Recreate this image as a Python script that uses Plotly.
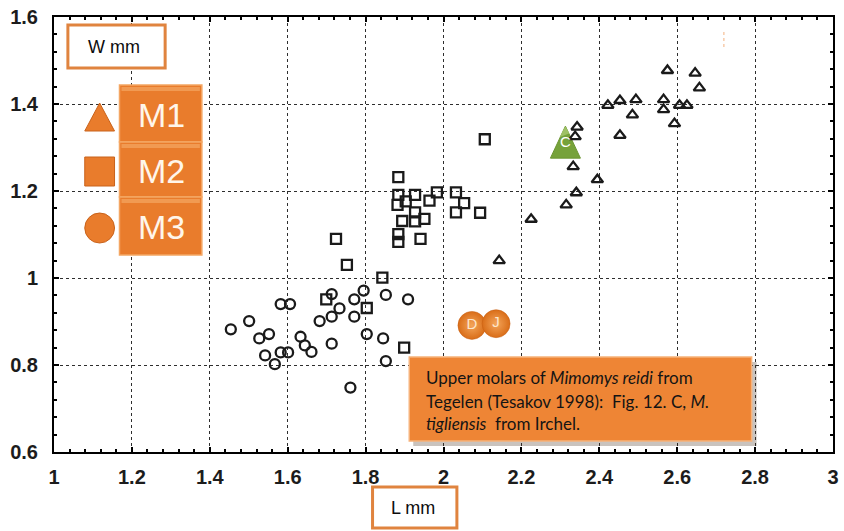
import plotly.graph_objects as go

# ---- data: tooth length (L) vs width (W), mm ----
# M1 (triangles)
m1_L = [2.575, 2.646, 2.657, 2.422, 2.453, 2.494, 2.485, 2.565, 2.565, 2.606, 2.625,
        2.593, 2.453, 2.343, 2.338, 2.333, 2.395, 2.341, 2.315, 2.225, 2.143]
m1_W = [1.477, 1.471, 1.437, 1.397, 1.408, 1.410, 1.375, 1.410, 1.387, 1.397, 1.397,
        1.355, 1.328, 1.347, 1.325, 1.256, 1.226, 1.196, 1.168, 1.135, 1.040]

# M2 (squares)
m2_L = [1.884, 1.884, 1.927, 1.903, 1.882, 1.964, 1.983, 2.032, 2.053, 2.032, 2.094,
        2.106, 1.927, 1.951, 1.894, 1.927, 1.884, 1.884, 1.941, 1.724, 1.752, 1.843,
        1.699, 1.803, 1.899]
m2_W = [1.232, 1.191, 1.191, 1.176, 1.168, 1.178, 1.197, 1.197, 1.172, 1.151, 1.150,
        1.319, 1.151, 1.136, 1.131, 1.130, 1.101, 1.083, 1.090, 1.090, 1.030, 1.001,
        0.951, 0.931, 0.840]

# M3 (circles)
m3_L = [1.454, 1.501, 1.527, 1.552, 1.542, 1.567, 1.582, 1.601, 1.582, 1.606, 1.633,
        1.644, 1.661, 1.682, 1.713, 1.713, 1.733, 1.713, 1.771, 1.795, 1.771, 1.803,
        1.852, 1.909, 1.845, 1.852, 1.761]
m3_W = [0.882, 0.901, 0.861, 0.871, 0.822, 0.802, 0.829, 0.829, 0.940, 0.940, 0.865,
        0.845, 0.830, 0.901, 0.911, 0.963, 0.930, 0.849, 0.951, 0.971, 0.911, 0.871,
        0.961, 0.951, 0.861, 0.809, 0.748]

# highlighted specimens
c_L, c_W, c_lab = [2.313], [1.31], ["C"]
dj_L, dj_W, dj_lab = [2.073, 2.135], [0.891, 0.895], ["D", "J"]

x_ticks = [1, 1.2, 1.4, 1.6, 1.8, 2, 2.2, 2.4, 2.6, 2.8, 3]
y_ticks = [0.6, 0.8, 1, 1.2, 1.4, 1.6]

W, H = 844, 531
ML, MR, MT, MB = 54, 5, 17, 79
PW, PH = W - ML - MR, H - MT - MB


def px(x):
    """pixel column -> paper x"""
    return (x - ML) / PW


def py(y):
    """pixel row -> paper y"""
    return (H - MB - y) / PH


ORANGE = "#E97C2C"
ORANGE_LT = "#F4A663"
ORANGE_DK = "#C9621A"
INK = "#1a1a1a"

fig = go.Figure()

shapes = []
annotations = []

# M. tigliensis specimen C: a tall triangle anchored on its data point
for L, Wd in zip(c_L, c_W):
    shapes.append(dict(type="path", layer="between", xref="x", yref="y",
                       xsizemode="pixel", ysizemode="pixel", xanchor=L, yanchor=Wd,
                       path="M -15,-15 L 15,-15 L 0,17 Z",
                       fillcolor="#76a23a", line=dict(color="#6a9530", width=1)))
    shapes.append(dict(type="path", layer="between", xref="x", yref="y",
                       xsizemode="pixel", ysizemode="pixel", xanchor=L, yanchor=Wd,
                       path="M -6,6 L 0,17 L 4,10 Z",
                       fillcolor="#a9c971", line=dict(width=0), opacity=0.8))

fig.add_trace(go.Scatter(
    x=m3_L, y=m3_W, mode="markers", name="M3",
    marker=dict(symbol="circle-open", size=10, color=INK, line=dict(width=2.3))))
fig.add_trace(go.Scatter(
    x=m2_L, y=m2_W, mode="markers", name="M2",
    marker=dict(symbol="square-open", size=10, color=INK, line=dict(width=2.3))))
fig.add_trace(go.Scatter(
    x=m1_L, y=m1_W, mode="markers", name="M1",
    marker=dict(symbol="triangle-up-open", size=10, color=INK, line=dict(width=2.3))))

fig.add_trace(go.Scatter(
    x=c_L, y=c_W, mode="text", text=c_lab, textposition="middle center",
    textfont=dict(family="Liberation Sans", size=15, color="white")))

# specimens D and J
fig.add_trace(go.Scatter(
    x=dj_L, y=dj_W, mode="markers+text", text=dj_lab, textposition="middle center",
    textfont=dict(family="Liberation Sans", size=15, color="#fde6cc"),
    marker=dict(symbol="circle", size=28, color="#d96d18",
                gradient=dict(type="radial", color="#f4a55a"),
                line=dict(width=0.5, color="#c65f12"))))


def rect(x0, y0, x1, y1, **kw):
    shapes.append(dict(type="rect", xref="paper", yref="paper",
                       x0=px(x0), x1=px(x1), y0=py(y1), y1=py(y0),
                       layer="above", **kw))


def label(x, y, text, size, color, family="Liberation Sans", xanchor="center"):
    annotations.append(dict(x=px(x), y=py(y), xref="paper", yref="paper",
                            text=text, showarrow=False, xanchor=xanchor,
                            yanchor="middle",
                            font=dict(family=family, size=size, color=color)))


# axis title boxes
rect(68, 25, 166, 68, fillcolor="white", line=dict(color="#E0843F", width=3))
label(114, 47, "W mm", 18, "#0d0d0d")
rect(375, 487, 460, 528, fillcolor="white", line=dict(color="#E0843F", width=3))
label(416, 508, "L mm", 18, "#0d0d0d")

# legend blocks
for (y0, y1, txt) in [(85, 142, "M1"), (142, 197, "M2"), (197, 255, "M3")]:
    rect(120, y0, 203, y1, fillcolor=ORANGE, line=dict(color=ORANGE_LT, width=1.5))
    rect(122, y0 + 2, 201, y0 + 6, fillcolor=ORANGE_LT, line=dict(width=0), opacity=0.7)
    label(162, (y0 + y1) / 2 + 1, txt, 34, "#fff6ea")

# legend symbols
shapes.append(dict(type="path", xref="paper", yref="paper", layer="above",
                   path=f"M {px(85)},{py(131)} L {px(115)},{py(131)} L {px(100)},{py(103)} Z",
                   fillcolor=ORANGE, line=dict(color=ORANGE_DK, width=1)))
rect(85, 157, 115, 186, fillcolor=ORANGE, line=dict(color=ORANGE_DK, width=1))
shapes.append(dict(type="circle", xref="paper", yref="paper", layer="above",
                   x0=px(85), x1=px(115), y0=py(243), y1=py(213),
                   fillcolor=ORANGE, line=dict(color=ORANGE_DK, width=1)))

# caption box with drop shadow
rect(416, 362, 762, 446, fillcolor="rgba(60,40,20,0.28)", line=dict(width=0))
rect(412, 357, 757, 441, fillcolor="#EE8535", line=dict(color="#F6B27A", width=1.5))
cap_font = "Lato"
label(427, 377, "Upper molars of <i>Mimomys reidi</i> from", 17, "#141414",
      family=cap_font, xanchor="left")
label(427, 401, "Tegelen (Tesakov 1998):  Fig. 12. C, <i>M.</i>", 17, "#141414",
      family=cap_font, xanchor="left")
label(427, 423, "<i>tigliensis</i>  from Irchel.", 17, "#141414",
      family=cap_font, xanchor="left")

# faint stray mark top right
shapes.append(dict(type="line", xref="paper", yref="paper", layer="above",
                   x0=px(729), x1=px(729), y0=py(32), y1=py(50),
                   line=dict(color="rgba(240,160,100,0.55)", width=1.5, dash="dot")))

axis_common = dict(
    showgrid=True, gridcolor="#2e2e2e", gridwidth=1.4, griddash="dot",
    showline=True, linecolor="black", linewidth=2, mirror="allticks",
    ticks="inside", ticklen=5, tickcolor="black", tickwidth=1.5,
    zeroline=False,
    tickfont=dict(family="Liberation Sans", size=20, color="#1c1c1c", weight="bold"),
    minor=dict(ticks="inside", ticklen=3, tickcolor="black", tickwidth=1.5,
               showgrid=False),
)

fig.update_layout(
    width=W, height=H,
    margin=dict(l=ML, r=MR, t=MT, b=MB),
    paper_bgcolor="white", plot_bgcolor="white",
    showlegend=False,
    shapes=shapes, annotations=annotations,
    xaxis=dict(range=[1, 3], tickvals=x_ticks, ticklabelstandoff=6, **axis_common),
    yaxis=dict(range=[0.6, 1.6], tickvals=y_ticks, ticklabelstandoff=10, **axis_common),
)
fig.update_xaxes(minor=dict(tick0=1, dtick=0.04))
fig.update_yaxes(minor=dict(tick0=0.6, dtick=0.04))

fig.write_html("out.html")
